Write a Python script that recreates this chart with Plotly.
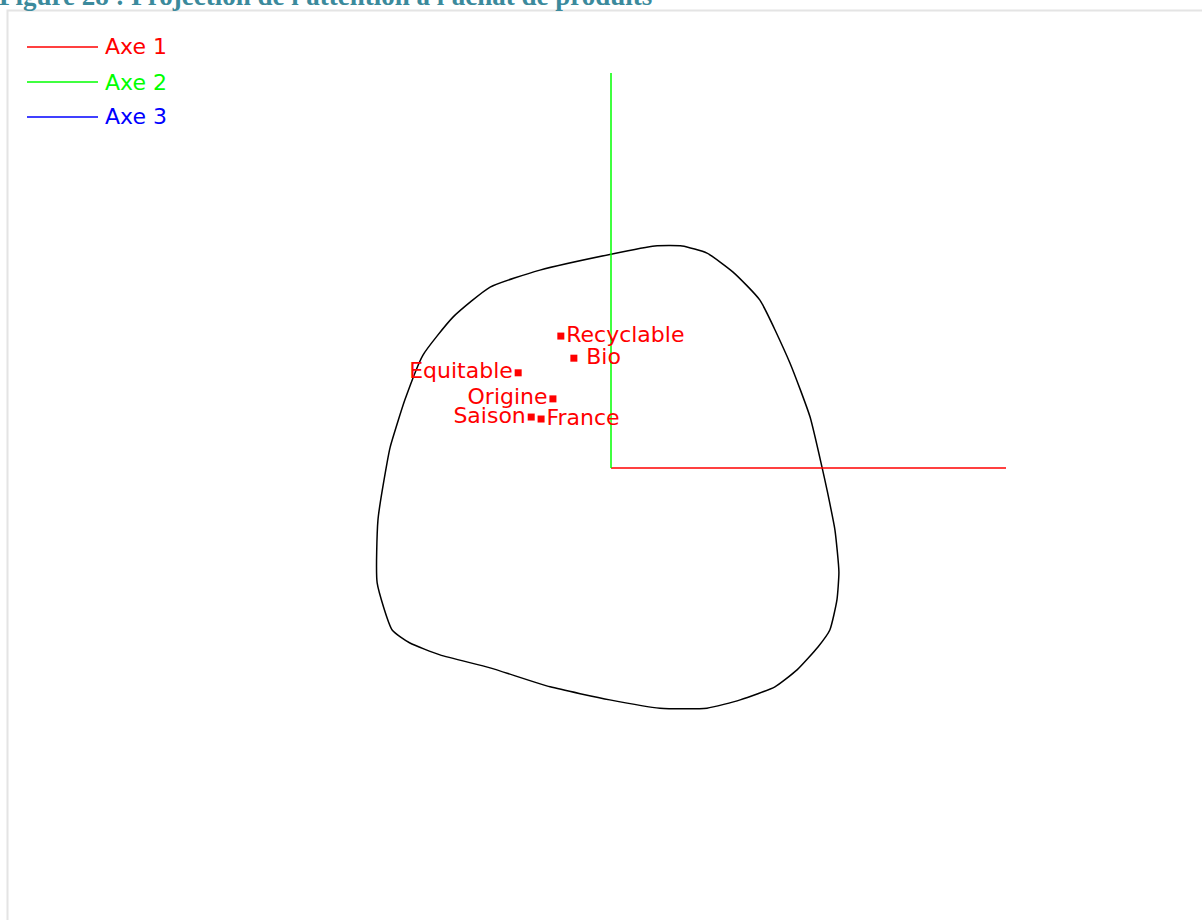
import plotly.graph_objects as go

# Projected axes (unit vectors in the projection plane)
axe_names = ["Axe 1", "Axe 2", "Axe 3"]
axe_colors = ["#ff0000", "#00ff00", "#0000ff"]
axe_x = [[0, 1.0], [0, 0.0], [0, 0.0]]
axe_y = [[0, 0.0], [0, 1.0], [0, 0.0]]

# Projected items
labels = ["Recyclable", " Bio", "Equitable", "Origine", "Saison", "France"]
pts_x = [-0.127, -0.094, -0.235, -0.147, -0.202, -0.177]
pts_y = [0.334, 0.278, 0.241, 0.175, 0.129, 0.124]
label_pos = ["middle right", "middle right", "middle left", "middle left", "middle left", "middle right"]

# Outline of the cloud
contour_x = [0.111, 0.180, 0.243, 0.309, 0.377, 0.453, 0.504, 0.534, 0.547, 0.567,
             0.577, 0.572, 0.554, 0.524, 0.471, 0.415, 0.327, 0.243, 0.124, -0.003,
             -0.154, -0.306, -0.433, -0.509, -0.554, -0.592, -0.590, -0.567, -0.559,
             -0.522, -0.476, -0.400, -0.306, -0.180, 0.003, 0.111]
contour_y = [0.562, 0.562, 0.544, 0.496, 0.425, 0.266, 0.129, 0.003, -0.056, -0.157,
             -0.263, -0.334, -0.410, -0.453, -0.511, -0.554, -0.587, -0.608, -0.608, -0.587,
             -0.554, -0.506, -0.473, -0.443, -0.410, -0.291, -0.132, 0.013, 0.053,
             0.172, 0.286, 0.382, 0.458, 0.501, 0.542, 0.562]

title = "Figure 28 : Projection de l'attention à l'achat de produits"
font = "DejaVu Sans"

fig = go.Figure()

fig.add_trace(go.Scatter(x=contour_x, y=contour_y, mode="lines",
                         line=dict(color="black", width=1.5, shape="spline", smoothing=0.5),
                         showlegend=False, hoverinfo="skip"))

for name, col, ax, ay in zip(axe_names, axe_colors, axe_x, axe_y):
    fig.add_trace(go.Scatter(x=ax, y=ay, mode="lines", name=name,
                             line=dict(color=col, width=1.5), showlegend=False))

fig.add_trace(go.Scatter(x=pts_x, y=pts_y, mode="markers+text", text=labels,
                         textposition=label_pos,
                         textfont=dict(family=font, size=22, color="#ff0000"),
                         marker=dict(symbol="square", size=7, color="#ff0000"),
                         showlegend=False))

# hand-drawn legend (long line samples like the original)
for i, (name, col) in enumerate(zip(axe_names, axe_colors)):
    ypix = 47 + 35 * i
    yp = 1 - ypix / 920
    fig.add_shape(type="line", xref="paper", yref="paper",
                  x0=27 / 1202, x1=98 / 1202, y0=yp, y1=yp,
                  line=dict(color=col, width=1.5))
    fig.add_annotation(xref="paper", yref="paper", x=103 / 1202, y=yp,
                       xanchor="left", yanchor="middle", showarrow=False,
                       text=name, font=dict(family=font, size=22, color=col))

# frame
fig.add_shape(type="rect", xref="paper", yref="paper",
              x0=7.5 / 1202, x1=1.01, y0=1 - 10.5 / 920, y1=-0.01,
              line=dict(color="#e4e4e4", width=2))

# clipped caption at the very top
fig.add_annotation(xref="paper", yref="paper", x=0, y=1, xanchor="left",
                   yanchor="bottom", yshift=-13, xshift=-3, showarrow=False,
                   text="<b>" + title + "</b>",
                   font=dict(family="Liberation Serif", size=27, color="#3b8a9c"))

x_lo, x_hi = -611 / 395, (1202 - 611) / 395
y_lo, y_hi = (468 - 920) / 395, 468 / 395
fig.update_xaxes(range=[x_lo, x_hi], visible=False)
fig.update_yaxes(range=[y_lo, y_hi], visible=False)
fig.update_layout(width=1202, height=920, margin=dict(l=0, r=0, t=0, b=0),
                  paper_bgcolor="white", plot_bgcolor="white")

fig.write_html("out.html", config={"displayModeBar": False},
               post_script="document.body.style.margin='0';")
